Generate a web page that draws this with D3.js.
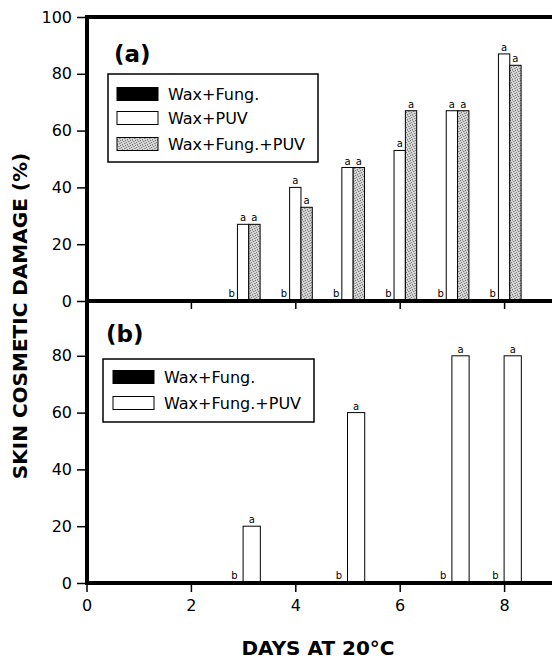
<!DOCTYPE html>
<html><head><meta charset="utf-8">
<script src="https://cdn.jsdelivr.net/npm/d3@7"></script>
<style>
body{margin:0;background:#fff;}
svg{display:block;}
text{font-family:"DejaVu Sans",sans-serif;fill:#000;}
</style></head>
<body><svg id="c" width="552" height="660"></svg>
<script>
// ---- data ----
const daysA = [3,4,5,6,7,8];
const aWaxFung = [0,0,0,0,0,0];
const aWaxPUV = [27,40,47,53,67,87];
const aWaxFungPUV = [27,33,47,67,67,83];
const aLettersFung = ["b","b","b","b","b","b"];
const aLettersPUV = ["a","a","a","a","a","a"];
const aLettersFungPUV = ["a","a","a","a","a","a"];

const daysB = [3,5,7,8];
const bWaxFung = [0,0,0,0];
const bWaxFungPUV = [20,60,80,80];
const bLettersFung = ["b","b","b","b"];
const bLettersFungPUV = ["a","a","a","a"];

const yTicksA = [0,20,40,60,80,100];
const yTicksB = [0,20,40,60,80];
const xTicks = [0,2,4,6,8];
const legendA = ["Wax+Fung.","Wax+PUV","Wax+Fung.+PUV"];
const legendB = ["Wax+Fung.","Wax+Fung.+PUV"];

// ---- layout ----
const svg = d3.select("#c");
const defs = svg.append("defs");
const pat = defs.append("pattern").attr("id","stip").attr("patternUnits","userSpaceOnUse")
  .attr("width",5).attr("height",5);
pat.append("rect").attr("width",5).attr("height",5).attr("fill","#d4d4d4");
[[0,0,"#777"],[3,1,"#888"],[1,2,"#808080"],[4,3,"#8c8c8c"],[2,4,"#7c7c7c"],[2,0,"#aaa"],[0,3,"#a6a6a6"],[4,1,"#b0b0b0"]].forEach(p=>{
  pat.append("rect").attr("x",p[0]).attr("y",p[1]).attr("width",1).attr("height",1).attr("fill",p[2]);
});

const x = d3.scaleLinear().domain([0,10]).range([86.5,608.5]);
const ya = d3.scaleLinear().domain([0,100]).range([301,17]);
const yb = d3.scaleLinear().domain([0,100]).range([583,299]);

const fills = {black:"#000", white:"#fff", gray:"url(#stip)"};

function bars(g, days, vals, letters, y, offset, w, fill, letterPos){
  const sel = g.append("g");
  days.forEach((d,i)=>{
    const x0 = x(d+offset*w), x1 = x(d+(offset+1)*w);
    sel.append("rect").attr("x",x0).attr("y",y(vals[i])).attr("width",x1-x0)
      .attr("height",y(0)-y(vals[i])).attr("fill",fill)
      .attr("stroke", vals[i]>0 ? "#000" : "none").attr("stroke-width",1);
    const t = sel.append("text").attr("font-size",10).text(letters[i]);
    if(letterPos==="top"){
      t.attr("x",(x0+x1)/2).attr("y",y(vals[i])-3).attr("text-anchor","middle");
    } else {
      t.attr("x",(x0+x1)/2).attr("y",y(0)-4).attr("text-anchor","middle");
    }
  });
}

// panel a bars
const wA = 0.217;
bars(svg, daysA, aWaxFung, aLettersFung, ya, -1.5, wA, fills.black, "bottom");
bars(svg, daysA, aWaxPUV, aLettersPUV, ya, -0.5, wA, fills.white, "top");
bars(svg, daysA, aWaxFungPUV, aLettersFungPUV, ya, 0.5, wA, fills.gray, "top");

// panel b bars
const wB = 0.33;
bars(svg, daysB, bWaxFung, bLettersFung, yb, -1, wB, fills.black, "bottom");
bars(svg, daysB, bWaxFungPUV, bLettersFungPUV, yb, 0, wB, fills.white, "top");

// axes
function styleAxis(g){
  g.select(".domain").remove();
  g.selectAll(".tick line").attr("stroke","#000").attr("stroke-width",1.5);
  g.selectAll(".tick text").attr("font-size",16).attr("font-family","DejaVu Sans, sans-serif").attr("fill","#000");
}
const axA = svg.append("g").attr("transform","translate(86,0)")
  .call(d3.axisLeft(ya).tickValues(yTicksA).tickSize(9).tickPadding(5));
styleAxis(axA);
const axB = svg.append("g").attr("transform","translate(86,0)")
  .call(d3.axisLeft(yb).tickValues(yTicksB).tickSize(9).tickPadding(5));
styleAxis(axB);
const axXa = svg.append("g").attr("transform","translate(0,301)")
  .call(d3.axisBottom(x).tickValues(xTicks).tickSize(8).tickFormat(""));
styleAxis(axXa);
const axXb = svg.append("g").attr("transform","translate(0,583)")
  .call(d3.axisBottom(x).tickValues(xTicks).tickSize(9).tickPadding(8));
styleAxis(axXb);

// frame lines
const frame = svg.append("g").attr("stroke","#000").attr("stroke-width",4);
frame.append("line").attr("x1",x(0)+0.5).attr("x2",x(0)+0.5).attr("y1",ya(100)-2).attr("y2",yb(0)+2);
frame.append("line").attr("x1",x(0)-1).attr("x2",552).attr("y1",ya(100)).attr("y2",ya(100));
frame.append("line").attr("x1",x(0)-1).attr("x2",552).attr("y1",ya(0)).attr("y2",ya(0));
frame.append("line").attr("x1",x(0)-1).attr("x2",552).attr("y1",yb(0)).attr("y2",yb(0));

// panel labels
svg.append("text").attr("x",114).attr("y",62).attr("font-size",23).attr("font-weight","bold").text("(a)");
svg.append("text").attr("x",106).attr("y",342).attr("font-size",23).attr("font-weight","bold").text("(b)");

// legends
function legend(bx,by,bw,bh,sx,tx,rows,labels,fillsArr){
  const g = svg.append("g");
  g.append("rect").attr("x",bx).attr("y",by).attr("width",bw).attr("height",bh)
    .attr("fill","#fff").attr("stroke","#000").attr("stroke-width",1.5);
  labels.forEach((l,i)=>{
    g.append("rect").attr("x",sx).attr("y",rows[i]-6.5).attr("width",41).attr("height",13)
      .attr("fill",fillsArr[i]).attr("stroke","#000").attr("stroke-width",1);
    g.append("text").attr("x",tx).attr("y",rows[i]+6).attr("font-size",16).text(l);
  });
}
legend(108,74,210,88,117,168,[94,118,144],legendA,[fills.black,fills.white,fills.gray]);
legend(103,359,211,63,113,164,[377,403],legendB,[fills.black,fills.white]);

// axis titles
svg.append("text").attr("x",318).attr("y",655).attr("text-anchor","middle")
  .attr("font-size",20).attr("font-weight","bold").text("DAYS AT 20°C");
svg.append("text").attr("transform","translate(27,316) rotate(-90)").attr("text-anchor","middle")
  .attr("font-size",20).attr("font-weight","bold").text("SKIN COSMETIC DAMAGE (%)");
</script></body></html>
